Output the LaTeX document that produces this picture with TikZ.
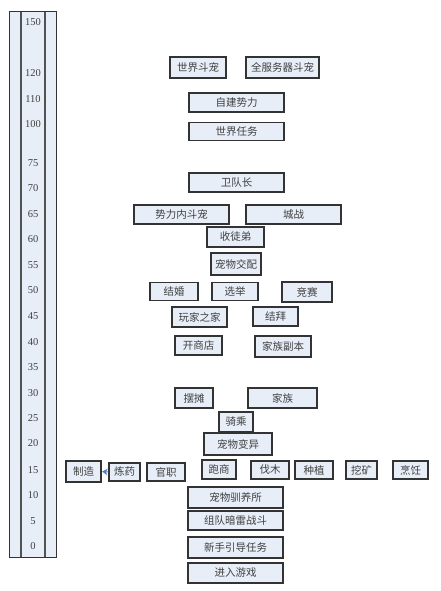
\documentclass[tikz,border=0pt]{standalone}
\usepackage{fontspec}
\setmainfont{Liberation Serif}
\newfontfamily\cjk{Noto Sans CJK SC}
\usetikzlibrary{arrows.meta}
\definecolor{boxfill}{HTML}{E8EEF8}
\definecolor{boxline}{HTML}{333333}
\definecolor{txt}{HTML}{404040}
\definecolor{arrowblue}{HTML}{4F7FBD}
\tikzset{
  box/.style={draw=boxline, line width=1.1pt, fill=boxfill, inner sep=0pt,
    font=\cjk\fontsize{10.5}{12}\selectfont, text=txt},
  lvl/.style={font=\fontsize{10.5}{12}\selectfont, text=txt, inner sep=0pt},
  link/.style={draw=arrowblue, line width=1pt, -{Stealth[length=5.5pt,width=6.5pt]}, shorten >=0.5pt}
}
\newcommand{\bx}[6]{\node[box, minimum width=#4pt, minimum height=#5pt] (#1) at (#2,#3) {#6};}
\begin{document}
\begin{tikzpicture}[x=1pt,y=-1pt]
\useasboundingbox (0,0) rectangle (440,591);
% ruler
\draw[fill=boxfill, draw=boxline, line width=1pt] (9,12) rectangle (56,557);
\draw[draw=boxline!85, line width=1.4pt] (21,12) -- (21,557) (45,12) -- (45,557);
\foreach \v/\y in {150/22,120/73,110/99,100/124,75/163,70/188,65/214,60/239,55/265,50/290,45/316,40/342,35/367,30/393,25/418,20/443,15/470,10/495,5/521,0/546}
  \node[lvl] (l\v) at (33,\y) {\v};
% boxes
\bx{sjdc}{198}{67.5}{56}{21}{世界斗宠}
\bx{qfwq}{282.5}{67.5}{73}{21}{全服务器斗宠}
\bx{zjsl}{236.5}{102.5}{95}{19}{自建势力}
\bx{sjrw}{236.5}{131.5}{95}{18}{世界任务}
\bx{wdz}{236.5}{182.5}{95}{19}{卫队长}
\bx{slndc}{181.5}{214.5}{95}{19}{势力内斗宠}
\bx{cz}{293.5}{214.5}{95}{19}{城战}
\bx{std}{235.5}{237}{57}{20}{收徒弟}
\bx{cwjp}{236}{264}{50}{22}{宠物交配}
\bx{jh}{174}{291.5}{48}{18}{结婚}
\bx{xj}{235}{291.5}{46}{18}{选举}
\bx{js}{307}{292}{50}{20}{竞赛}
\bx{wjzj}{199.5}{317}{55}{20}{玩家之家}
\bx{jb}{275.5}{316.5}{45}{19}{结拜}
\bx{ksd}{198.5}{345.5}{47}{19}{开商店}
\bx{jzfb}{283}{346.5}{56}{21}{家族副本}
\bx{bt}{194}{398}{38}{20}{摆摊}
\bx{jz}{282.5}{398}{69}{20}{家族}
\bx{qc}{236}{422}{34}{20}{骑乘}
\bx{cwby}{238}{444}{68}{22}{宠物变异}
\bx{zz}{83.5}{471.5}{35}{21}{制造}
\bx{ly}{124.5}{472}{31}{18}{炼药}
\bx{gz}{166}{472}{38}{18}{官职}
\bx{ps}{219}{469.5}{34}{19}{跑商}
\bx{fm}{270}{470}{38}{18}{伐木}
\bx{zzh}{314}{470}{38}{18}{种植}
\bx{wk}{361.5}{470}{31}{18}{挖矿}
\bx{pr}{410.5}{470}{35}{18}{烹饪}
\bx{cwxys}{235.5}{497.5}{95}{21}{宠物驯养所}
\bx{zdal}{235.5}{520.5}{95}{19}{组队暗雷战斗}
\bx{xsyd}{235.5}{547.5}{95}{21}{新手引导任务}
\bx{jryx}{235.5}{573}{95}{20}{进入游戏}
% connector
\draw[link] (ly.west) -- (zz.east);
\end{tikzpicture}
\end{document}
